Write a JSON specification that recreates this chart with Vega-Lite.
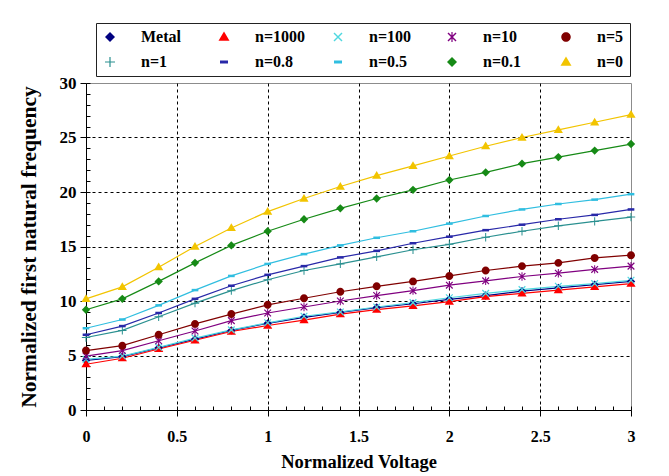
{
  "$schema": "https://vega.github.io/schema/vega-lite/v6.json",
  "width": 545,
  "height": 327,
  "autosize": {"type": "none"},
  "padding": {"left": 86, "top": 83, "right": 38, "bottom": 66},
  "background": "white",
  "datasets": {
    "d": [
      {"s":"Metal","V":0,"f":4.55},{"s":"Metal","V":0.2,"f":4.9},{"s":"Metal","V":0.4,"f":5.7},{"s":"Metal","V":0.6,"f":6.5},{"s":"Metal","V":0.8,"f":7.3},{"s":"Metal","V":1,"f":7.95},{"s":"Metal","V":1.2,"f":8.5},{"s":"Metal","V":1.4,"f":8.95},{"s":"Metal","V":1.6,"f":9.4},{"s":"Metal","V":1.8,"f":9.75},{"s":"Metal","V":2,"f":10.15},{"s":"Metal","V":2.2,"f":10.5},{"s":"Metal","V":2.4,"f":10.9},{"s":"Metal","V":2.6,"f":11.2},{"s":"Metal","V":2.8,"f":11.5},{"s":"Metal","V":3,"f":11.8},
      {"s":"n=1000","V":0,"f":4.2},{"s":"n=1000","V":0.2,"f":4.75},{"s":"n=1000","V":0.4,"f":5.6},{"s":"n=1000","V":0.6,"f":6.4},{"s":"n=1000","V":0.8,"f":7.2},{"s":"n=1000","V":1,"f":7.75},{"s":"n=1000","V":1.2,"f":8.25},{"s":"n=1000","V":1.4,"f":8.8},{"s":"n=1000","V":1.6,"f":9.2},{"s":"n=1000","V":1.8,"f":9.55},{"s":"n=1000","V":2,"f":9.95},{"s":"n=1000","V":2.2,"f":10.4},{"s":"n=1000","V":2.4,"f":10.7},{"s":"n=1000","V":2.6,"f":11.0},{"s":"n=1000","V":2.8,"f":11.3},{"s":"n=1000","V":3,"f":11.6},
      {"s":"n=100","V":0,"f":4.65},{"s":"n=100","V":0.2,"f":4.95},{"s":"n=100","V":0.4,"f":5.75},{"s":"n=100","V":0.6,"f":6.6},{"s":"n=100","V":0.8,"f":7.35},{"s":"n=100","V":1,"f":8.0},{"s":"n=100","V":1.2,"f":8.6},{"s":"n=100","V":1.4,"f":9.0},{"s":"n=100","V":1.6,"f":9.45},{"s":"n=100","V":1.8,"f":9.85},{"s":"n=100","V":2,"f":10.3},{"s":"n=100","V":2.2,"f":10.7},{"s":"n=100","V":2.4,"f":11.05},{"s":"n=100","V":2.6,"f":11.35},{"s":"n=100","V":2.8,"f":11.6},{"s":"n=100","V":3,"f":11.9},
      {"s":"n=10","V":0,"f":4.95},{"s":"n=10","V":0.2,"f":5.45},{"s":"n=10","V":0.4,"f":6.35},{"s":"n=10","V":0.6,"f":7.25},{"s":"n=10","V":0.8,"f":8.2},{"s":"n=10","V":1,"f":8.9},{"s":"n=10","V":1.2,"f":9.45},{"s":"n=10","V":1.4,"f":10.0},{"s":"n=10","V":1.6,"f":10.5},{"s":"n=10","V":1.8,"f":10.95},{"s":"n=10","V":2,"f":11.45},{"s":"n=10","V":2.2,"f":11.85},{"s":"n=10","V":2.4,"f":12.25},{"s":"n=10","V":2.6,"f":12.55},{"s":"n=10","V":2.8,"f":12.9},{"s":"n=10","V":3,"f":13.2},
      {"s":"n=5","V":0,"f":5.45},{"s":"n=5","V":0.2,"f":5.9},{"s":"n=5","V":0.4,"f":6.9},{"s":"n=5","V":0.6,"f":7.9},{"s":"n=5","V":0.8,"f":8.8},{"s":"n=5","V":1,"f":9.65},{"s":"n=5","V":1.2,"f":10.25},{"s":"n=5","V":1.4,"f":10.85},{"s":"n=5","V":1.6,"f":11.35},{"s":"n=5","V":1.8,"f":11.8},{"s":"n=5","V":2,"f":12.3},{"s":"n=5","V":2.2,"f":12.8},{"s":"n=5","V":2.4,"f":13.2},{"s":"n=5","V":2.6,"f":13.5},{"s":"n=5","V":2.8,"f":13.95},{"s":"n=5","V":3,"f":14.2},
      {"s":"n=1","V":0,"f":6.65},{"s":"n=1","V":0.2,"f":7.3},{"s":"n=1","V":0.4,"f":8.55},{"s":"n=1","V":0.6,"f":9.8},{"s":"n=1","V":0.8,"f":10.95},{"s":"n=1","V":1,"f":11.95},{"s":"n=1","V":1.2,"f":12.8},{"s":"n=1","V":1.4,"f":13.4},{"s":"n=1","V":1.6,"f":14.05},{"s":"n=1","V":1.8,"f":14.7},{"s":"n=1","V":2,"f":15.2},{"s":"n=1","V":2.2,"f":15.85},{"s":"n=1","V":2.4,"f":16.4},{"s":"n=1","V":2.6,"f":16.9},{"s":"n=1","V":2.8,"f":17.3},{"s":"n=1","V":3,"f":17.7},
      {"s":"n=0.8","V":0,"f":6.9},{"s":"n=0.8","V":0.2,"f":7.7},{"s":"n=0.8","V":0.4,"f":8.9},{"s":"n=0.8","V":0.6,"f":10.2},{"s":"n=0.8","V":0.8,"f":11.4},{"s":"n=0.8","V":1,"f":12.4},{"s":"n=0.8","V":1.2,"f":13.2},{"s":"n=0.8","V":1.4,"f":14.0},{"s":"n=0.8","V":1.6,"f":14.6},{"s":"n=0.8","V":1.8,"f":15.3},{"s":"n=0.8","V":2,"f":15.9},{"s":"n=0.8","V":2.2,"f":16.5},{"s":"n=0.8","V":2.4,"f":17.0},{"s":"n=0.8","V":2.6,"f":17.5},{"s":"n=0.8","V":2.8,"f":17.9},{"s":"n=0.8","V":3,"f":18.4},
      {"s":"n=0.5","V":0,"f":7.5},{"s":"n=0.5","V":0.2,"f":8.3},{"s":"n=0.5","V":0.4,"f":9.6},{"s":"n=0.5","V":0.6,"f":11.0},{"s":"n=0.5","V":0.8,"f":12.3},{"s":"n=0.5","V":1,"f":13.4},{"s":"n=0.5","V":1.2,"f":14.3},{"s":"n=0.5","V":1.4,"f":15.1},{"s":"n=0.5","V":1.6,"f":15.8},{"s":"n=0.5","V":1.8,"f":16.4},{"s":"n=0.5","V":2,"f":17.1},{"s":"n=0.5","V":2.2,"f":17.8},{"s":"n=0.5","V":2.4,"f":18.4},{"s":"n=0.5","V":2.6,"f":18.9},{"s":"n=0.5","V":2.8,"f":19.3},{"s":"n=0.5","V":3,"f":19.8},
      {"s":"n=0.1","V":0,"f":9.2},{"s":"n=0.1","V":0.2,"f":10.2},{"s":"n=0.1","V":0.4,"f":11.8},{"s":"n=0.1","V":0.6,"f":13.5},{"s":"n=0.1","V":0.8,"f":15.1},{"s":"n=0.1","V":1,"f":16.4},{"s":"n=0.1","V":1.2,"f":17.5},{"s":"n=0.1","V":1.4,"f":18.5},{"s":"n=0.1","V":1.6,"f":19.4},{"s":"n=0.1","V":1.8,"f":20.2},{"s":"n=0.1","V":2,"f":21.1},{"s":"n=0.1","V":2.2,"f":21.8},{"s":"n=0.1","V":2.4,"f":22.6},{"s":"n=0.1","V":2.6,"f":23.2},{"s":"n=0.1","V":2.8,"f":23.8},{"s":"n=0.1","V":3,"f":24.4},
      {"s":"n=0","V":0,"f":10.2},{"s":"n=0","V":0.2,"f":11.3},{"s":"n=0","V":0.4,"f":13.1},{"s":"n=0","V":0.6,"f":15.0},{"s":"n=0","V":0.8,"f":16.7},{"s":"n=0","V":1,"f":18.2},{"s":"n=0","V":1.2,"f":19.4},{"s":"n=0","V":1.4,"f":20.5},{"s":"n=0","V":1.6,"f":21.5},{"s":"n=0","V":1.8,"f":22.4},{"s":"n=0","V":2,"f":23.3},{"s":"n=0","V":2.2,"f":24.2},{"s":"n=0","V":2.4,"f":25.0},{"s":"n=0","V":2.6,"f":25.7},{"s":"n=0","V":2.8,"f":26.4},{"s":"n=0","V":3,"f":27.1}
    ]
  },
  "data": {"name": "d"},
  "resolve": {"axis": {"x": "independent", "y": "independent"}},
  "layer": [
    {
      "mark": {"type": "line", "strokeWidth": 1.2},
      "encoding": {
        "x": {
          "field": "V", "type": "quantitative",
          "scale": {"domain": [0, 3], "nice": false},
          "axis": {
            "orient": "bottom",
            "values": [0, 0.5, 1, 1.5, 2, 2.5, 3],
            "format": "~g",
            "labelFontSize": 16, "labelPadding": 12, "labelFlush": false,
            "tickSize": 6,
            "grid": true, "gridDash": [3, 3], "gridColor": "#000", "gridWidth": 1,
            "gridOpacity": {"condition": {"test": "datum.value === 0 || datum.value === 3", "value": 0}, "value": 1},
            "title": "Normalized Voltage", "titleFontSize": 18.5, "titlePadding": 8
          }
        },
        "y": {
          "field": "f", "type": "quantitative",
          "scale": {"domain": [0, 30], "nice": false},
          "axis": {
            "orient": "left",
            "values": [0, 5, 10, 15, 20, 25, 30],
            "labelFontSize": 17, "labelPadding": 4,
            "tickSize": 6,
            "grid": true, "gridDash": [3, 3], "gridColor": "#000", "gridWidth": 1,
            "gridOpacity": {"condition": {"test": "datum.value === 0 || datum.value === 30", "value": 0}, "value": 1},
            "title": "Normalized first natural frequency", "titleFontSize": 21.5, "titlePadding": 19
          }
        },
        "color": {
          "field": "s", "type": "nominal",
          "scale": {
            "domain": ["Metal", "n=1000", "n=100", "n=10", "n=5", "n=1", "n=0.8", "n=0.5", "n=0.1", "n=0"],
            "range": ["#000080", "#FF0000", "#4FD8E0", "#800080", "#800000", "#2A9090", "#2828A8", "#30BEE0", "#168A16", "#F2C400"]
          }
        }
      }
    },
    {
      "mark": {"type": "point", "filled": true, "size": 70, "opacity": 1, "strokeWidth": 0},
      "encoding": {
        "x": {
          "field": "V", "type": "quantitative",
          "scale": {"domain": [0, 3], "nice": false},
          "axis": {
            "orient": "bottom", "offset": -4,
            "values": [0, 0.1, 0.2, 0.3, 0.4, 0.5, 0.6, 0.7, 0.8, 0.9, 1, 1.1, 1.2, 1.3, 1.4, 1.5, 1.6, 1.7, 1.8, 1.9, 2, 2.1, 2.2, 2.3, 2.4, 2.5, 2.6, 2.7, 2.8, 2.9, 3],
            "tickSize": 4, "labels": false, "domain": false, "grid": false, "title": null
          }
        },
        "y": {
          "field": "f", "type": "quantitative",
          "scale": {"domain": [0, 30], "nice": false},
          "axis": {
            "orient": "left", "offset": -4,
            "values": [0, 1, 2, 3, 4, 5, 6, 7, 8, 9, 10, 11, 12, 13, 14, 15, 16, 17, 18, 19, 20, 21, 22, 23, 24, 25, 26, 27, 28, 29, 30],
            "tickSize": 4, "labels": false, "domain": false, "grid": false, "title": null
          }
        },
        "color": {
          "field": "s", "type": "nominal",
          "scale": {
            "domain": ["Metal", "n=1000", "n=100", "n=10", "n=5", "n=1", "n=0.8", "n=0.5", "n=0.1", "n=0"],
            "range": ["#000080", "#FF0000", "#4FD8E0", "#800080", "#800000", "#2A9090", "#2828A8", "#30BEE0", "#168A16", "#F2C400"]
          },
          "legend": {
            "orient": "none", "legendX": 10, "legendY": -60, "title": null,
            "columns": 5, "direction": "horizontal", "gridAlign": "all",
            "columnPadding": 24, "rowPadding": 9, "padding": 6,
            "strokeColor": "#222",
            "labelFont": "Liberation Serif", "labelFontWeight": "bold", "labelFontSize": 16, "labelColor": "#000", "labelOffset": 23,
            "symbolSize": 100, "symbolStrokeWidth": 0
          }
        },
        "shape": {
          "field": "s", "type": "nominal",
          "scale": {
            "domain": ["Metal", "n=1000", "n=100", "n=10", "n=5", "n=1", "n=0.8", "n=0.5", "n=0.1", "n=0"],
            "range": [
              "M0,-1L1,0L0,1L-1,0Z",
              "M0,-1.1L1.1,0.75L-1.1,0.75Z",
              "M-0.7,-0.9L0.9,0.7L0.7,0.9L-0.9,-0.7ZM-0.9,0.7L0.7,-0.9L0.9,-0.7L-0.7,0.9Z",
              "M-0.7,-0.9L0.9,0.7L0.7,0.9L-0.9,-0.7ZM-0.9,0.7L0.7,-0.9L0.9,-0.7L-0.7,0.9ZM-0.12,-1H0.12V1H-0.12Z",
              "M0.95,0A0.95,0.95,0,1,1,-0.95,0A0.95,0.95,0,1,1,0.95,0Z",
              "M-0.12,-1H0.12V-0.12H1V0.12H0.12V1H-0.12V0.12H-1V-0.12H-0.12Z",
              "M-0.8,-0.3H0.8V0.3H-0.8Z",
              "M-0.8,-0.3H0.8V0.3H-0.8Z",
              "M0,-1L1,0L0,1L-1,0Z",
              "M0,-1.1L1.1,0.75L-1.1,0.75Z"
            ]
          },
          "legend": {
            "orient": "none", "legendX": 10, "legendY": -60, "title": null,
            "columns": 5, "direction": "horizontal", "gridAlign": "all",
            "columnPadding": 24, "rowPadding": 9, "padding": 6,
            "strokeColor": "#222",
            "labelFont": "Liberation Serif", "labelFontWeight": "bold", "labelFontSize": 16, "labelColor": "#000", "labelOffset": 23,
            "symbolSize": 100, "symbolStrokeWidth": 0
          }
        }
      }
    }
  ],
  "config": {
    "font": "Liberation Serif",
    "view": {"stroke": "#8c8c8c", "strokeWidth": 1},
    "axis": {
      "labelFont": "Liberation Serif", "labelFontWeight": "bold", "labelColor": "#000",
      "titleFont": "Liberation Serif", "titleFontWeight": "bold", "titleColor": "#000",
      "domainColor": "#000", "tickColor": "#000", "domainWidth": 1, "tickWidth": 1
    }
  }
}
